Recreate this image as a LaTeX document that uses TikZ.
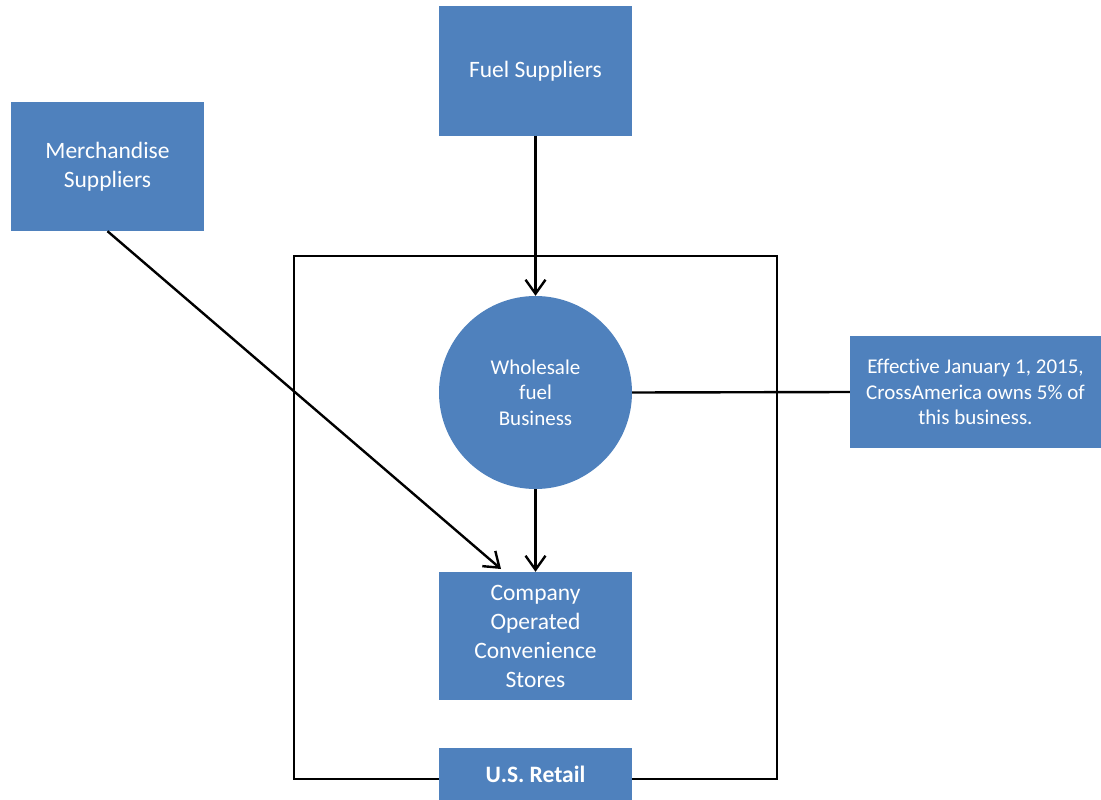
\documentclass[tikz,border=0pt]{standalone}
\usepackage{fontspec}
\setmainfont{Carlito}[Ligatures={NoCommon}]
\usetikzlibrary{arrows.meta}
\definecolor{boxblue}{HTML}{4F81BD}
\tikzset{
  bluebox/.style={fill=boxblue, draw=none, text=white, align=center,
    inner sep=0pt, minimum width=193pt, minimum height=129pt,
    font=\fontsize{23.5}{29}\selectfont},
  smalltext/.style={font=\fontsize{21}{25.5}\selectfont},
  conn/.style={draw=black, line width=2.4pt},
  arr/.style={conn, -{Straight Barb[length=14pt,width=20pt,line width=2.4pt]}},
}
\begin{document}
\begin{tikzpicture}[x=1pt,y=-1pt]
\useasboundingbox (0,0) rectangle (1101,800);
% big frame
\draw[conn] (294,256) rectangle (777,779);
\node[bluebox] (fuel) at (535.5,71) {Fuel Suppliers};
\node[bluebox] (merch) at (107.5,166.5) {Merchandise\\Suppliers};
\node[circle, fill=boxblue, text=white, align=center, inner sep=0pt,
  minimum size=193pt, smalltext] (whole) at (535.5,392.5) {Wholesale\\fuel\\Business};
\node[bluebox, minimum width=251pt, minimum height=112pt, smalltext] (eff) at (975.5,392) {Effective January 1, 2015,\\CrossAmerica owns 5\% of\\this business.};
\node[bluebox, minimum height=128pt] (comp) at (535.5,636) {Company\\Operated\\Convenience\\Stores};
\node[bluebox, minimum height=53pt, font=\fontsize{23.5}{29}\selectfont\bfseries] (retail) at (535.5,774) {U.S. Retail};
\coordinate (mend) at (501,569);
\draw[arr] (fuel.south) -- (whole.north);
\draw[arr] (whole.south) -- (comp.north);
\draw[arr] (merch.south) -- (mend);
\draw[conn] (whole.east) -- (eff.west);
\end{tikzpicture}
\end{document}
